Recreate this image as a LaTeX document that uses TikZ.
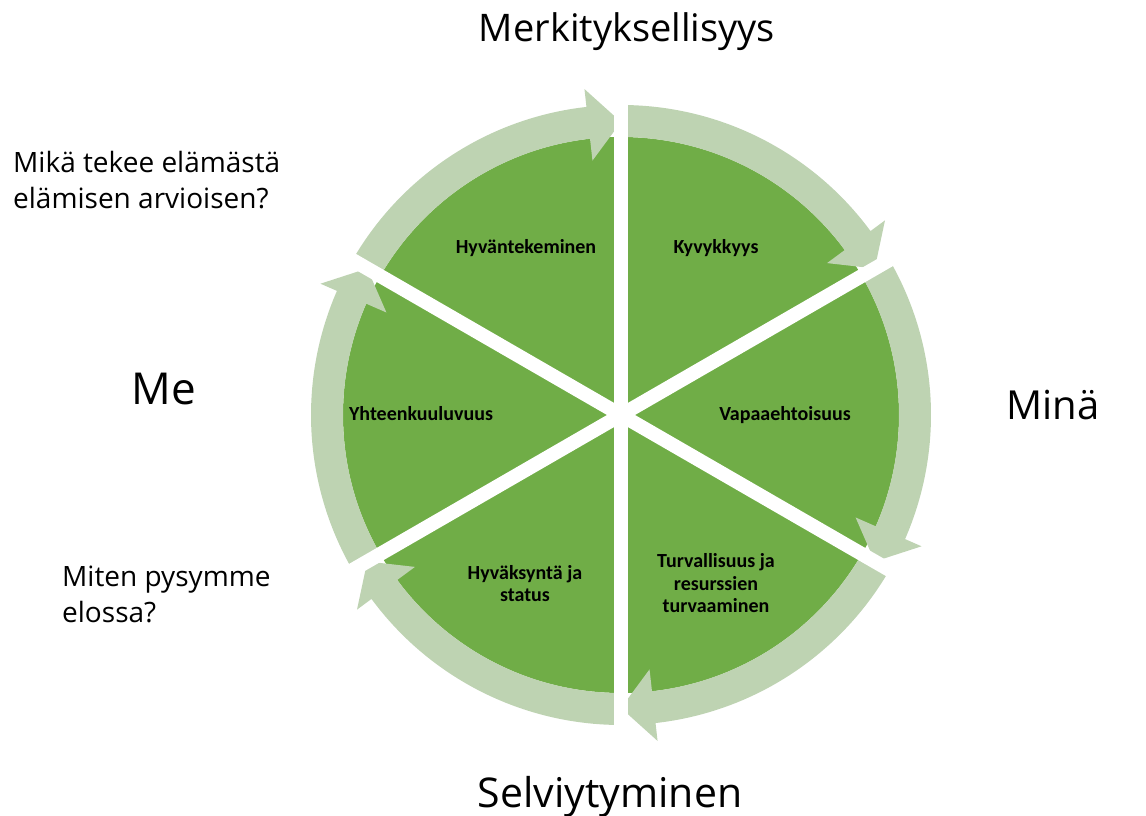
\documentclass[tikz,border=0pt]{standalone}
\usepackage{fontspec}
\setmainfont{Open Sans}
\newfontfamily\lblfont{Carlito}
\definecolor{wheelgreen}{RGB}{112,173,71}
\definecolor{bandgreen}{RGB}{190,211,178}
\tikzset{
  bigtext/.style={font=\fontsize{40}{48}\selectfont, text=black, inner sep=0pt},
  question/.style={font=\fontsize{28}{36}\selectfont, text=black, inner sep=0pt, align=left, anchor=base west},
  sectorlabel/.style={font=\lblfont\bfseries\fontsize{20}{22.5}\selectfont, text=black, inner sep=0pt, align=center, anchor=base},
  gapline/.style={white, line width=14pt},
}
% curved arrow along the rim of one sector, running clockwise from angle #1 to angle #2
\newcommand{\rimarrow}[2]{%
  \pgfmathsetmacro{\headback}{#2+6.4}%
  \fill[bandgreen] (#1:310) arc[start angle=#1, end angle=\headback, radius=310]
    -- (\headback:328) -- (#2:293) -- (\headback:256) -- (\headback:278)
    arc[start angle=\headback, end angle=#1, radius=278] -- cycle;%
}
\begin{document}
\begin{tikzpicture}[x=1pt,y=1pt]
\useasboundingbox (0,0) rectangle (1146,816);
\begin{scope}[shift={(621,401)}]
  % the wheel
  \fill[wheelgreen] (0,0) circle[radius=278];
  \rimarrow{150}{90}
  \rimarrow{90}{30}
  \rimarrow{30}{-30}
  \rimarrow{-30}{-90}
  \rimarrow{-90}{-150}
  \rimarrow{-150}{-210}
  % white gaps between the six sectors
  \coordinate (g1a) at (90:345);  \coordinate (g1b) at (-90:345);
  \coordinate (g2a) at (30:345);  \coordinate (g2b) at (-150:345);
  \coordinate (g3a) at (-30:345); \coordinate (g3b) at (150:345);
  \draw[gapline] (g1a) -- (g1b);
  \draw[gapline] (g2a) -- (g2b);
  \draw[gapline] (g3a) -- (g3b);
\end{scope}

% sector labels (base anchor sits on the last line)
\node[sectorlabel] (hyv) at (526,562) {Hyväntekeminen};
\node[sectorlabel] (kyv) at (716,562) {Kyvykkyys};
\node[sectorlabel] (yht) at (421,395) {Yhteenkuuluvuus};
\node[sectorlabel] (vap) at (785,395) {Vapaaehtoisuus};
\node[sectorlabel] (sta) at (525,214) {Hyväksyntä ja\\status};
\node[sectorlabel] (tur) at (716,203) {Turvallisuus ja\\resurssien\\turvaaminen};

% outer labels
\node[bigtext, anchor=base, font=\fontsize{38}{46}\selectfont] (top) at (627,774) {Merkityksellisyys};
\node[bigtext, anchor=base, font=\fontsize{41}{48}\selectfont] (bot) at (610,8) {Selviytyminen};
\node[bigtext, anchor=base, font=\fontsize{44}{48}\selectfont] (me) at (164,411) {Me};
\node[bigtext, anchor=base] (mina) at (1053,396) {Minä};
\node[question] (q1) at (13,607) {Mikä tekee elämästä\\elämisen arvioisen?};
\node[question] (q2) at (62,193) {Miten pysymme\\elossa?};
\end{tikzpicture}
\end{document}
